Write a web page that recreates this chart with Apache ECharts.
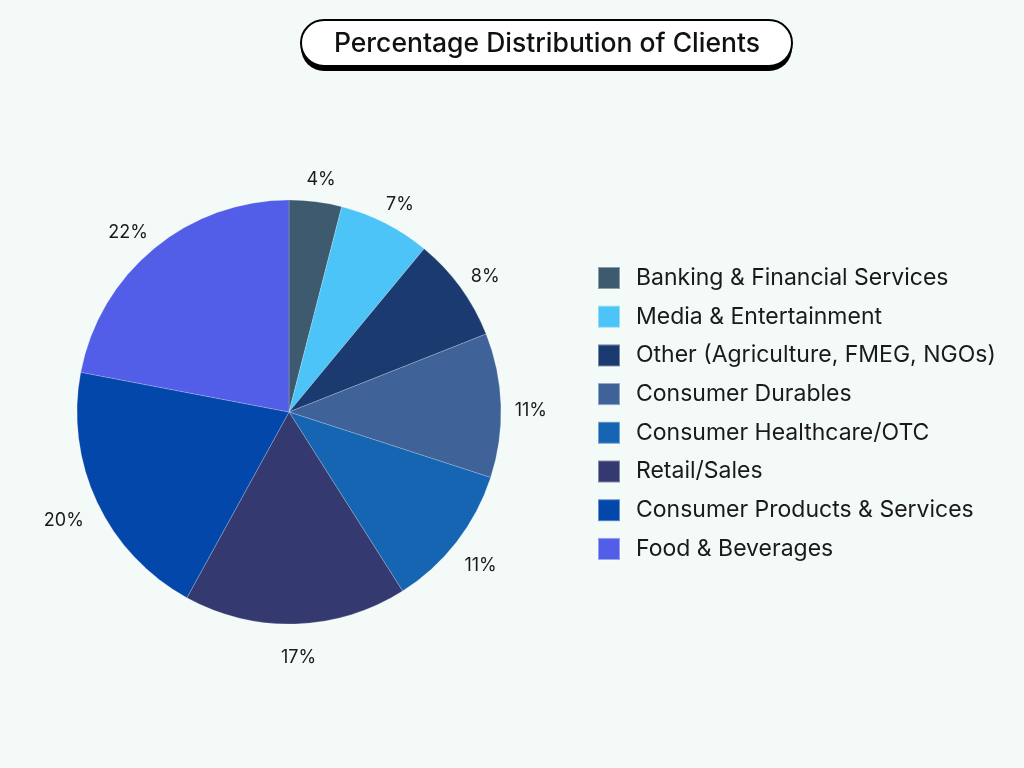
<!DOCTYPE html>
<html>
<head>
<meta charset="utf-8">
<script src="https://cdn.jsdelivr.net/npm/echarts@6/dist/echarts.min.js"></script>
<style>
html,body{margin:0;padding:0;background:#f4faf8;}
#chart{width:1024px;height:768px;}
</style>
</head>
<body>
<div id="chart"></div>
<script>
const categories = [
  'Banking & Financial Services',
  'Media & Entertainment',
  'Other (Agriculture, FMEG, NGOs)',
  'Consumer Durables',
  'Consumer Healthcare/OTC',
  'Retail/Sales',
  'Consumer Products & Services',
  'Food & Beverages'
];
const values = [4, 7, 8, 11, 11, 17, 20, 22];
const colors = ['#3d5a6e', '#4cc4f8', '#1b3a70', '#3f6399', '#1565b3', '#343a70', '#0447aa', '#525de8'];
const titleText = 'Percentage Distribution of Clients';

const chart = echarts.init(document.getElementById('chart'));
const FONT = 'Inter, "Noto Sans", sans-serif';
chart.setOption({
  backgroundColor: '#f4faf8',
  animation: false,
  color: colors,
  graphic: [
    { type: 'rect', shape: { x: 301, y: 25, width: 491, height: 46, r: 23 }, style: { fill: '#000' } },
    { type: 'rect', shape: { x: 301, y: 20, width: 491, height: 46, r: 23 }, style: { fill: '#ffffff', stroke: '#000', lineWidth: 2 } },
    { type: 'text', x: 547, y: 44, style: { text: titleText, font: '500 26.5px ' + FONT, fill: '#111', align: 'center', verticalAlign: 'middle' } }
  ],
  legend: {
    orient: 'vertical',
    left: 597,
    top: 266,
    padding: 0,
    itemWidth: 22,
    itemHeight: 22,
    itemGap: 14.7,
    icon: 'rect',
    textStyle: { fontSize: 23, lineHeight: 23, color: '#1a1a1a', fontFamily: FONT, padding: [0, 0, 0, 11] },
    data: categories
  },
  series: [{
    type: 'pie',
    center: [289, 412],
    radius: 212,
    startAngle: 90,
    clockwise: true,
    itemStyle: { borderColor: 'rgba(255,255,255,0.4)', borderWidth: 0.5 },
    label: {
      show: true,
      position: 'outside',
      formatter: p => p.value + '%',
      fontSize: 18,
      color: '#1a1a1a',
      fontFamily: FONT
    },
    labelLine: { show: false, length: 28, length2: 0 },
    labelLayout: function () { return { align: 'center', verticalAlign: 'middle', dx: -3, dy: 6 }; },
    data: categories.map((c, i) => ({ name: c, value: values[i] }))
  }]
});
</script>
</body>
</html>
